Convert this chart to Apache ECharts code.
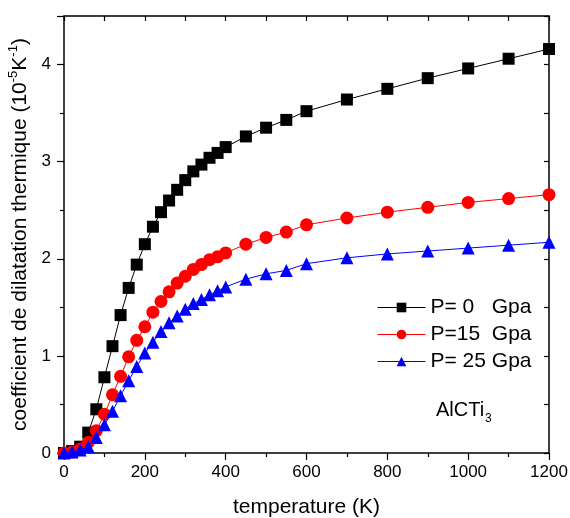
<!DOCTYPE html>
<html><head><meta charset="utf-8">
<script src="https://cdn.jsdelivr.net/npm/echarts@6/dist/echarts.min.js"></script>
<style>html,body{margin:0;padding:0;background:#fff}#c{width:570px;height:518px}</style>
</head><body><div id="c"></div>
<script>
const temperature = [0,20,40,60,80,100,120,140,160,180,200,220,240,260,280,300,320,340,360,380,400,450,500,550,600,700,800,900,1000,1100,1200];
const p0 = [0,0.02,0.065,0.21,0.45,0.78,1.10,1.42,1.70,1.94,2.15,2.33,2.48,2.60,2.71,2.81,2.90,2.97,3.04,3.09,3.15,3.26,3.35,3.43,3.52,3.64,3.75,3.86,3.96,4.06,4.16];
const p15 = [0,0.01,0.04,0.11,0.23,0.40,0.60,0.79,0.99,1.16,1.30,1.45,1.56,1.66,1.75,1.82,1.89,1.94,1.99,2.02,2.06,2.15,2.22,2.275,2.35,2.42,2.48,2.53,2.58,2.62,2.66];
const p25 = [0,0.01,0.03,0.065,0.16,0.29,0.43,0.59,0.745,0.89,1.03,1.14,1.25,1.34,1.41,1.48,1.54,1.58,1.63,1.67,1.71,1.79,1.845,1.88,1.95,2.01,2.05,2.08,2.11,2.14,2.17];
const seriesNames = ['P= 0   Gpa','P=15  Gpa','P= 25 Gpa'];
const xTicks = [0,200,400,600,800,1000,1200];
const yTicks = [0,1,2,3,4];

const font = 'Liberation Sans, Arial, sans-serif';
const chart = echarts.init(document.getElementById('c'), null, {renderer:'canvas'});
function pairs(v){ return temperature.map((t,i)=>[t,v[i]]); }
const axisLineStyle = {color:'#000', width:1.5};
chart.setOption({
  animation:false,
  backgroundColor:'#fff',
  grid:{left:64,right:21,top:16,bottom:65,containLabel:false,outerBoundsMode:'none'},
  legend:{
    left:377, top:297, padding:0, orient:'vertical', itemWidth:48, itemHeight:12, itemGap:6,
    lineStyle:{width:1},
    textStyle:{fontFamily:font,fontSize:21,lineHeight:21,color:'#000'},
    data:seriesNames
  },
  xAxis:[{
    type:'value', min:0, max:1200, interval:200, position:'bottom',
    name:'temperature (K)', nameLocation:'middle', nameGap:44,
    nameTextStyle:{fontFamily:font,fontSize:21,color:'#000'},
    axisLine:{show:true,onZero:false,lineStyle:axisLineStyle},
    axisTick:{show:true,inside:false,length:7,lineStyle:{color:'#000',width:1.2}},
    minorTick:{show:true,splitNumber:2,length:4,lineStyle:{color:'#000',width:1.2}},
    axisLabel:{fontFamily:font,fontSize:17,color:'#000',margin:11,formatter:(v)=>String(v)},
    splitLine:{show:false}
  },{
    type:'value', min:0, max:1200, interval:100, position:'top',
    axisLine:{show:true,onZero:false,lineStyle:axisLineStyle},
    axisTick:{show:true,inside:true,length:5,lineStyle:{color:'#000',width:1.2}},
    axisLabel:{show:false}, splitLine:{show:false}
  }],
  yAxis:[{
    type:'value', min:0, max:4.5, interval:1, position:'left',
    name:'{m|coefficient de dilatation thermique (10}{s|-5}{m|K}{s|-1}{m|)}',
    nameLocation:'middle', nameGap:27, nameRotate:90,
    nameTextStyle:{fontFamily:font,fontSize:21,color:'#000',
      rich:{m:{fontFamily:font,fontSize:21,color:'#000',lineHeight:24,verticalAlign:'bottom'},
            s:{fontFamily:font,fontSize:13,color:'#000',lineHeight:24,verticalAlign:'top'}}},
    axisLine:{show:true,onZero:false,lineStyle:axisLineStyle},
    axisTick:{show:true,inside:false,length:7,lineStyle:{color:'#000',width:1.2}},
    minorTick:{show:true,splitNumber:2,length:4,lineStyle:{color:'#000',width:1.2}},
    axisLabel:{fontFamily:font,fontSize:17,color:'#000',margin:13,showMaxLabel:false},
    splitLine:{show:false}
  },{
    type:'value', min:0, max:4.5, interval:0.5, position:'right',
    axisLine:{show:true,onZero:false,lineStyle:axisLineStyle},
    axisTick:{show:true,inside:true,length:5,lineStyle:{color:'#000',width:1.2}},
    axisLabel:{show:false}, splitLine:{show:false}
  }],
  graphic:[
    {type:'text', left:436, top:400, style:{text:'AlCTi', font:'20px ' + font, fill:'#000'}},
    {type:'text', left:485, top:413, style:{text:'3', font:'12px ' + font, fill:'#000'}}
  ],
  series:[
    {name:seriesNames[0],type:'line',data:pairs(p0),symbol:'rect',symbolSize:12,
     itemStyle:{color:'#000'},lineStyle:{color:'#000',width:1},z:3},
    {name:seriesNames[1],type:'line',data:pairs(p15),symbol:'circle',symbolSize:13,
     itemStyle:{color:'#ff0000'},lineStyle:{color:'#ff0000',width:1},z:4},
    {name:seriesNames[2],type:'line',data:pairs(p25),symbol:'triangle',symbolSize:13,
     itemStyle:{color:'#0000ff'},lineStyle:{color:'#0000ff',width:1},z:5}
  ]
});
</script></body></html>
